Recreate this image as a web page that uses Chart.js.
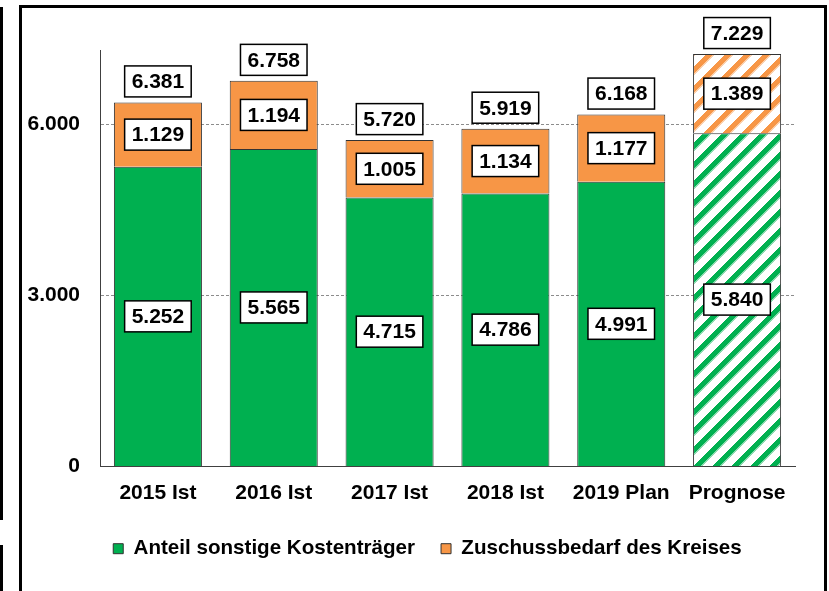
<!DOCTYPE html>
<html lang="de">
<head>
<meta charset="utf-8">
<title>Anteil sonstige Kostenträger / Zuschussbedarf des Kreises</title>
<script src="https://cdn.jsdelivr.net/npm/chart.js@4.4.1/dist/chart.umd.min.js"></script>
<style>
  html, body { margin: 0; padding: 0; background: #fff; }
  #wrap { position: relative; width: 829px; height: 591px; overflow: hidden; }
  #frame { position: absolute; left: 19px; top: 5px; width: 802px; height: 640px; border: 3px solid #000; }
  .edge { position: absolute; left: 0; width: 3px; background: #000; }
  canvas { position: absolute; left: 0; top: 0; }
</style>
</head>
<body>
<div id="wrap">
  <div class="edge" style="top:7px; height:513px;"></div>
  <div class="edge" style="top:545px; height:46px;"></div>
  <div id="frame"></div>
  <canvas id="chart" width="829" height="591"></canvas>
</div>
<script>
// values
const categories = ['2015 Ist', '2016 Ist', '2017 Ist', '2018 Ist', '2019 Plan', 'Prognose'];
const anteilSonstige = [5252, 5565, 4715, 4786, 4991, 5840];
const zuschussbedarf = [1129, 1194, 1005, 1134, 1177, 1389];
const gesamt = [6381, 6758, 5720, 5919, 6168, 7229];
const yTicks = [0, 3000, 6000];

const GREEN = '#00b050';
const ORANGE = '#f79646';
const FONT = { family: '"Liberation Sans", Arial, sans-serif', size: 21, weight: 'bold' };

var canvas = document.getElementById('chart');
var mainCtx = canvas.getContext('2d');

// german thousands separator
function fmt(v) {
    return String(v).replace(/\B(?=(\d{3})+(?!\d))/g, '.');
}

// diagonal stripes ("/") for the forecast bar, built pixel by pixel so the tile has no seams
function hatch(rgb) {
    var s = 19;
    var c = document.createElement('canvas');
    c.width = s;
    c.height = s;
    var g = c.getContext('2d');
    var img = g.createImageData(s, s);
    for (var py = 0; py < s; py++) {
        for (var px = 0; px < s; px++) {
            var d = (px + py) % s;
            // stripe core 0..7, soft edge at 7 and 8
            var a = d < 7 ? 1 : (d < 9 ? 0.45 : 0);
            var o = (py * s + px) * 4;
            img.data[o] = Math.round(255 + (rgb[0] - 255) * a);
            img.data[o + 1] = Math.round(255 + (rgb[1] - 255) * a);
            img.data[o + 2] = Math.round(255 + (rgb[2] - 255) * a);
            img.data[o + 3] = 255;
        }
    }
    g.putImageData(img, 0, 0);
    return mainCtx.createPattern(c, 'repeat');
}

var greenHatch = hatch([0, 176, 80]);
var orangeHatch = hatch([247, 150, 70]);

function drawBox(ctx, text, x, y) {
    var w = ctx.measureText(text).width + 14;
    var h = 31;
    ctx.fillStyle = '#fff';
    ctx.fillRect(x - w / 2, y - h / 2, w, h);
    ctx.lineWidth = 1.5;
    ctx.strokeStyle = '#000';
    ctx.strokeRect(x - w / 2, y - h / 2, w, h);
    ctx.fillStyle = '#000';
    ctx.fillText(text, x, y + 1);
}

// value boxes in the segments and the totals above the bars
var boxLabels = {
    id: 'boxLabels',
    beforeDraw: function (chart) {
        // legend sits a bit right of the plot centre in the original
        if (!chart.legend._shifted) {
            chart.legend.left += 30;
            chart.legend.right += 30;
            chart.legend._shifted = true;
        }
    },
    afterDatasetsDraw: function (chart) {
        var ctx = chart.ctx;
        ctx.save();
        ctx.font = 'bold 21px "Liberation Sans", Arial, sans-serif';
        ctx.textAlign = 'center';
        ctx.textBaseline = 'middle';
        chart.data.datasets.forEach(function (ds, i) {
            chart.getDatasetMeta(i).data.forEach(function (bar, j) {
                drawBox(ctx, fmt(ds.data[j]), bar.x, (bar.y + bar.base) / 2);
            });
        });
        var topBars = chart.getDatasetMeta(chart.data.datasets.length - 1).data;
        topBars.forEach(function (bar, j) {
            drawBox(ctx, fmt(gesamt[j]), bar.x, bar.y - 21);
        });
        ctx.restore();
    }
};

new Chart(canvas, {
    type: 'bar',
    data: {
        labels: categories,
        datasets: [{
            label: 'Anteil sonstige Kostenträger',
            data: anteilSonstige,
            backgroundColor: function (c) { return c.dataIndex === 5 ? greenHatch : GREEN; },
            borderColor: '#333',
            borderWidth: 1,
            barPercentage: 0.76,
            categoryPercentage: 1
        }, {
            label: 'Zuschussbedarf des Kreises',
            data: zuschussbedarf,
            backgroundColor: function (c) { return c.dataIndex === 5 ? orangeHatch : ORANGE; },
            borderColor: '#333',
            borderWidth: 1,
            barPercentage: 0.76,
            categoryPercentage: 1
        }]
    },
    options: {
        responsive: false,
        animation: false,
        devicePixelRatio: 1,
        layout: { padding: { left: 0, right: 34, top: 50, bottom: 22 } },
        plugins: {
            legend: {
                position: 'bottom',
                labels: {
                    boxWidth: 10,
                    boxHeight: 10,
                    padding: 26,
                    color: '#000',
                    font: { family: FONT.family, size: 20.6, weight: 'bold' }
                }
            },
            tooltip: { enabled: false }
        },
        scales: {
            x: {
                stacked: true,
                grid: { display: false },
                border: { color: '#404040', width: 1 },
                ticks: { color: '#000', font: FONT, padding: 6 },
                afterFit: function (s) { s.height = 46; }
            },
            y: {
                stacked: true,
                min: 0,
                max: 7300,
                ticks: {
                    stepSize: 3000,
                    color: '#000',
                    font: FONT,
                    padding: 20,
                    callback: function (v) { return fmt(v); }
                },
                afterBuildTicks: function (s) {
                    s.ticks = yTicks.map(function (v) { return { value: v }; });
                },
                afterFit: function (s) { s.width = 100; },
                grid: {
                    drawTicks: false,
                    color: function (c) { return c.tick && c.tick.value === 0 ? 'rgba(0,0,0,0)' : '#8c8c8c'; }
                },
                border: { color: '#404040', width: 1, dash: [3, 2] }
            }
        }
    },
    plugins: [boxLabels]
});
</script>
</body>
</html>
